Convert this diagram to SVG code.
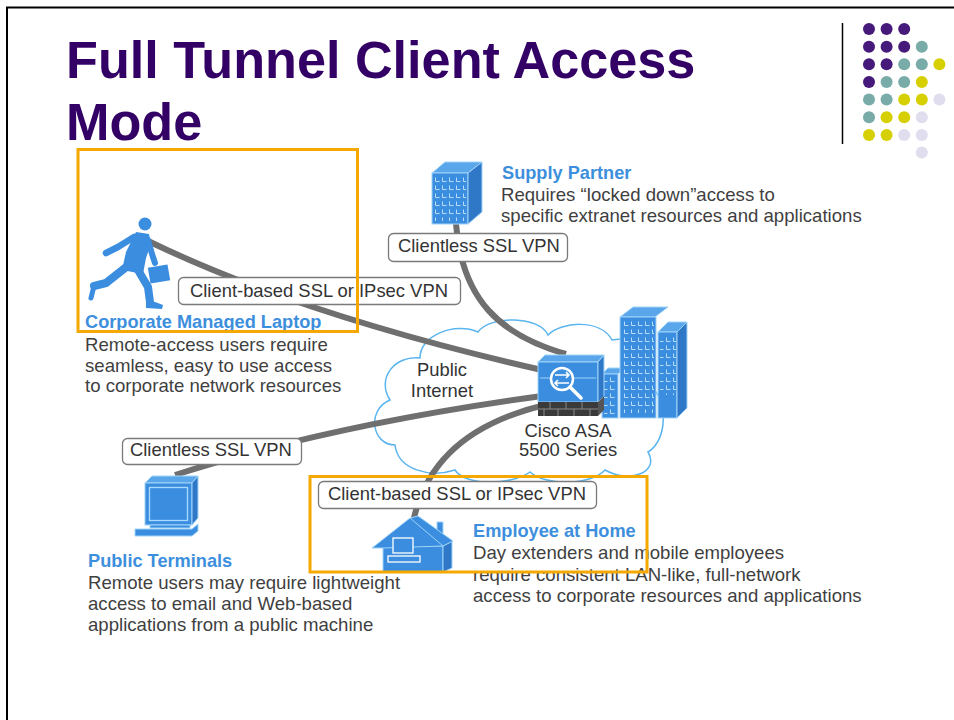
<svg xmlns="http://www.w3.org/2000/svg" width="954" height="720" viewBox="0 0 954 720">
  <style>
    .title { font-family: "Liberation Sans", Arial, sans-serif; font-weight: bold; font-size: 52.2px; fill: #330066; }
    .head { font-family: "Liberation Sans", Arial, sans-serif; font-weight: bold; font-size: 18.2px; fill: #3d8fdd; }
    .body { font-family: "Liberation Sans", Arial, sans-serif; font-size: 18.6px; fill: #3f3f3f; }
    .lbl { font-family: "Liberation Sans", Arial, sans-serif; font-size: 18.4px; fill: #333333; }
    .lblbox { fill: #ffffff; stroke: #7a7a7a; stroke-width: 1.3; }
    .link { fill: none; stroke: #6f6f6f; stroke-width: 6; }
    .hl { fill: none; stroke: #f5a800; stroke-width: 3; }
    .blue { fill: #3b8de0; stroke: #9fd4f8; stroke-width: 1; }
    .blue2 { fill: #2f78c8; stroke: #9fd4f8; stroke-width: 1; }
    .blue3 { fill: #5aa6ea; stroke: #9fd4f8; stroke-width: 1; }
    .ink { fill: #3b8de0; }
    .limb { fill: none; stroke: #3b8de0; stroke-linejoin: round; stroke-linecap: round; }
    .dp { fill: #461a7a; } .dt { fill: #79aba8; } .dy { fill: #d6d000; } .dl { fill: #e0ddee; }
  </style>
  <defs>
    <pattern id="win" width="7" height="8" patternUnits="userSpaceOnUse">
      <path d="M1.5,1.5 v4 h4" fill="none" stroke="#c5e6ff" stroke-width="0.9"/>
    </pattern>
  </defs>

  <!-- slide frame -->
  <path d="M7,720 V7.5 H954" fill="none" stroke="#000" stroke-width="2"/>

  <!-- title -->
  <text class="title" x="66" y="78">Full Tunnel Client Access</text>
  <text class="title" x="66" y="140">Mode</text>

  <!-- decorative dot grid -->
  <g id="dots">
    <line x1="842.5" y1="23" x2="842.5" y2="144" stroke="#000" stroke-width="1.5"/>
    <circle class="dp" cx="869" cy="29" r="6"/><circle class="dp" cx="886.6" cy="29" r="6"/><circle class="dp" cx="904.2" cy="29" r="6"/>
    <circle class="dp" cx="869" cy="46.7" r="6"/><circle class="dp" cx="886.6" cy="46.7" r="6"/><circle class="dp" cx="904.2" cy="46.7" r="6"/><circle class="dt" cx="921.8" cy="46.7" r="6"/>
    <circle class="dp" cx="869" cy="64.3" r="6"/><circle class="dp" cx="886.6" cy="64.3" r="6"/><circle class="dt" cx="904.2" cy="64.3" r="6"/><circle class="dt" cx="921.8" cy="64.3" r="6"/><circle class="dy" cx="939.4" cy="64.3" r="6"/>
    <circle class="dp" cx="869" cy="82" r="6"/><circle class="dt" cx="886.6" cy="82" r="6"/><circle class="dt" cx="904.2" cy="82" r="6"/><circle class="dy" cx="921.8" cy="82" r="6"/>
    <circle class="dt" cx="869" cy="99.6" r="6"/><circle class="dt" cx="886.6" cy="99.6" r="6"/><circle class="dy" cx="904.2" cy="99.6" r="6"/><circle class="dy" cx="921.8" cy="99.6" r="6"/><circle class="dl" cx="939.4" cy="99.6" r="6"/>
    <circle class="dt" cx="869" cy="117.3" r="6"/><circle class="dy" cx="886.6" cy="117.3" r="6"/><circle class="dy" cx="904.2" cy="117.3" r="6"/><circle class="dl" cx="921.8" cy="117.3" r="6"/>
    <circle class="dy" cx="869" cy="135" r="6"/><circle class="dy" cx="886.6" cy="135" r="6"/><circle class="dl" cx="904.2" cy="135" r="6"/><circle class="dl" cx="921.8" cy="135" r="6"/>
    <circle class="dl" cx="921.8" cy="152.6" r="6"/>
  </g>

  <!-- internet cloud -->
  <g id="cloud">
    <path d="M395,445 C372,445 366,410 390,400 C376,378 395,355 420,358 C420,335 455,322 478,332 C490,315 540,316 548,335 C560,322 600,318 612,340 C640,335 665,360 650,385 C668,400 668,440 648,452 C660,472 630,484 605,470 C590,486 545,486 530,472 C510,486 465,486 455,470 C430,478 398,470 395,445 Z" fill="#ffffff" stroke="#5ab4ee" stroke-width="1.5"/>
    <text class="lbl" x="442" y="376" text-anchor="middle">Public</text>
    <text class="lbl" x="442" y="397" text-anchor="middle">Internet</text>
  </g>

  <!-- connectors -->
  <g id="connectors">
    <path class="link" d="M146,240 Q300,315 542,370"/>
    <path class="link" d="M456,224 C462,300 500,335 566,354"/>
    <path class="link" d="M175,475 Q330,425 542,396"/>
    <path class="link" d="M414,518 C425,470 460,425 545,405"/>
  </g>

  <!-- connector labels -->
  <g id="labels">
    <rect class="lblbox" x="388.5" y="233.5" width="179" height="28" rx="5"/>
    <text class="lbl" x="398" y="252">Clientless SSL VPN</text>
    <rect class="lblbox" x="178.5" y="277.5" width="282" height="27" rx="5"/>
    <text class="lbl" x="190" y="297">Client-based SSL or IPsec VPN</text>
    <rect class="lblbox" x="122.5" y="438.5" width="179" height="26" rx="5"/>
    <text class="lbl" x="130" y="456">Clientless SSL VPN</text>
    <rect class="lblbox" x="318.5" y="481.5" width="278" height="27" rx="5"/>
    <text class="lbl" x="328" y="500">Client-based SSL or IPsec VPN</text>
  </g>

  <!-- Cisco ASA with data-centre buildings -->
  <g id="asa">
    <polygon class="blue3" points="602,374 608,368 624,368 618,374"/>
    <rect class="blue" x="602" y="374" width="16" height="44"/>
    <rect x="604" y="377" width="13" height="38" fill="url(#win)"/>
    <polygon class="blue3" points="620,317 633,307 668,307 655,317"/>
    <rect class="blue" x="620" y="317" width="36" height="101"/>
    <rect x="623" y="320" width="31" height="93" fill="url(#win)"/>
    <polygon class="blue3" points="658,332 668,322 687,322 677,332"/>
    <rect class="blue" x="658" y="332" width="19" height="86"/>
    <polygon class="blue2" points="677,332 687,322 687,408 677,418"/>
    <rect x="660" y="335" width="16" height="60" fill="url(#win)"/>

    <polygon class="blue3" points="538,362 545,355 604,355 598,362"/>
    <rect class="blue" x="538" y="362" width="60" height="40"/>
    <polygon class="blue2" points="598,362 604,355 604,396 598,402"/>
    <line x1="540" y1="378" x2="596" y2="378" stroke="#9fd4f8" stroke-width="1"/>
    <circle cx="562" cy="379" r="11" fill="#3b8de0" stroke="#ffffff" stroke-width="2.5"/>
    <path d="M555,375 H569 M566,372 L569,375 L566,378 M569,383 H555 M558,380 L555,383 L558,386" fill="none" stroke="#ffffff" stroke-width="1.6"/>
    <line x1="570" y1="387" x2="581" y2="398" stroke="#ffffff" stroke-width="3.5" stroke-linecap="round"/>
    <rect x="538" y="402" width="60" height="14" fill="#3a3a3a"/>
    <polygon points="598,402 604,396 604,410 598,416" fill="#555"/>
    <path d="M538,409 H598 M550,402 V409 M566,402 V409 M582,402 V409 M544,409 V416 M558,409 V416 M574,409 V416 M590,409 V416" stroke="#8a8a8a" stroke-width="1"/>
    <text class="lbl" x="568" y="437" text-anchor="middle">Cisco ASA</text>
    <text class="lbl" x="568" y="456" text-anchor="middle">5500 Series</text>
  </g>

  <!-- supply partner -->
  <g id="supply-partner">
    <polygon class="blue3" points="432,173 445,162 482,162 468,173"/>
    <rect class="blue" x="432" y="173" width="36" height="51"/>
    <polygon class="blue2" points="468,173 482,162 482,212 468,224"/>
    <rect x="435" y="176" width="31" height="45" fill="url(#win)"/>
    <text class="head" x="502" y="179">Supply Partner</text>
    <text class="body" x="501" y="201">Requires “locked down”access to</text>
    <text class="body" x="501" y="222">specific extranet resources and applications</text>
  </g>

  <!-- corporate managed laptop (running figure) -->
  <g id="laptop-user">
    <circle class="ink" cx="145" cy="224" r="6.5"/>
    <path class="ink" d="M136,232 L149,234 L151,244 L146,258 L143,274 L122,270 L126,252 Z"/>
    <path class="limb" stroke-width="6.5" d="M134,237 L118,247 L106,253"/>
    <path class="limb" stroke-width="6" d="M148,240 L152,254 L155,263"/>
    <path class="limb" stroke-width="8" d="M125,268 L106,283 L94,286"/>
    <path class="limb" stroke-width="5" d="M94,286 L91,298"/>
    <path class="limb" stroke-width="8" d="M138,270 L148,287 L150,302"/>
    <path class="ink" d="M146,301 L155,302 L163,305 L162,309 L146,308 Z"/>
    <rect class="ink" x="149" y="266" width="20" height="16" transform="rotate(-10 159 274)"/>
    <text class="head" x="85" y="328">Corporate Managed Laptop</text>
    <text class="body" x="85" y="351">Remote-access users require</text>
    <text class="body" x="85" y="372">seamless, easy to use access</text>
    <text class="body" x="85" y="392">to corporate network resources</text>
  </g>

  <!-- public terminal -->
  <g id="public-terminal">
    <polygon class="blue3" points="145,483 152,476 198,476 192,483"/>
    <rect class="blue" x="145" y="483" width="47" height="42"/>
    <polygon class="blue2" points="192,483 198,476 198,518 192,525"/>
    <rect x="149.5" y="487.5" width="38" height="33" fill="none" stroke="#a8dbfb" stroke-width="1.3"/>
    <rect class="blue" x="150" y="525" width="40" height="3"/>
    <polygon class="blue" points="135,529 192,529 198,524 198,531 192,536 135,536"/>
    <text class="head" x="88" y="567">Public Terminals</text>
    <text class="body" x="88" y="589">Remote users may require lightweight</text>
    <text class="body" x="88" y="610">access to email and Web-based</text>
    <text class="body" x="88" y="631">applications from a public machine</text>
  </g>

  <!-- employee at home -->
  <g id="home-user">
    <rect class="blue" x="437" y="522" width="6" height="16"/>
    <rect class="blue" x="383" y="546" width="60" height="26"/>
    <polygon class="blue2" points="443,546 452,541 452,568 443,572"/>
    <polygon class="blue" points="372,548 410,518 418,516 453,541 443,546 383,548"/>
    <line x1="410" y1="518" x2="443" y2="546" stroke="#9fd4f8" stroke-width="1"/>
    <rect x="393" y="538" width="20" height="15" fill="#3b8de0" stroke="#ffffff" stroke-width="1.3"/>
    <rect x="388" y="556" width="32" height="6" fill="#3b8de0" stroke="#ffffff" stroke-width="1.3"/>
    <text class="head" x="473" y="537">Employee at Home</text>
    <text class="body" x="473" y="559">Day extenders and mobile employees</text>
    <text class="body" x="473" y="581">require consistent LAN-like, full-network</text>
    <text class="body" x="473" y="602">access to corporate resources and applications</text>
  </g>

  <!-- highlight frames -->
  <g id="highlights">
    <rect class="hl" x="78" y="149.5" width="279.5" height="182"/>
    <rect class="hl" x="310" y="476.5" width="337" height="95.5"/>
  </g>
</svg>
